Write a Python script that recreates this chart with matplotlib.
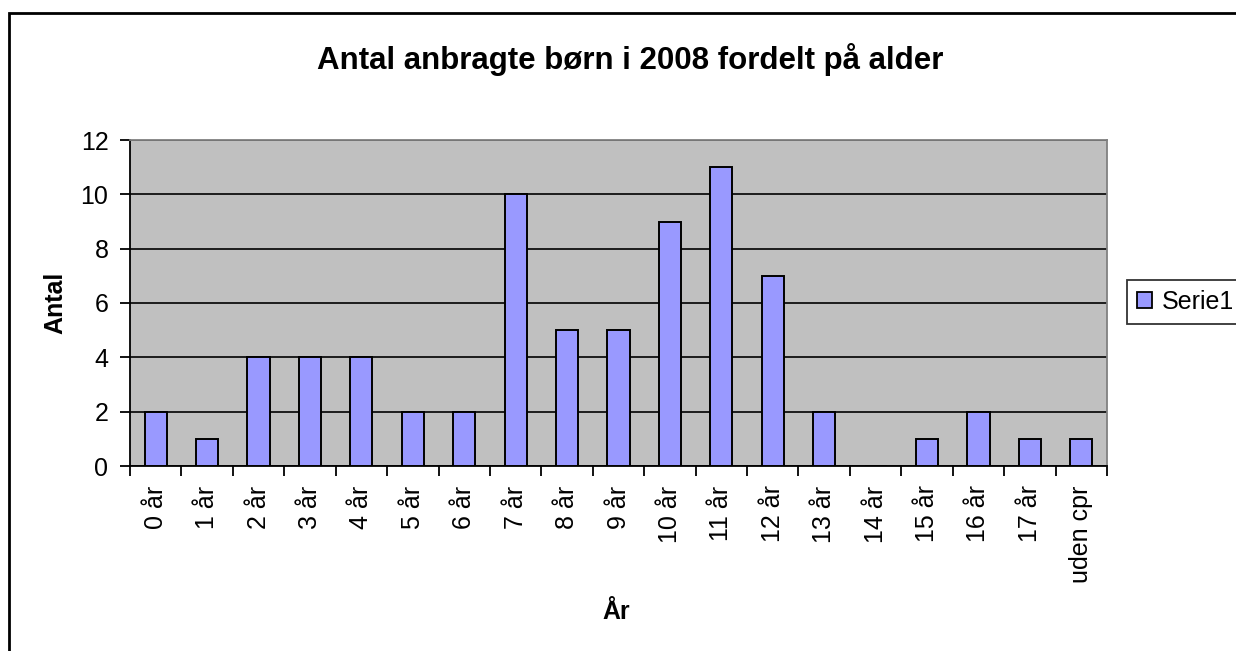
import numpy as np
import matplotlib
matplotlib.use('Agg')
import matplotlib.pyplot as plt
from matplotlib.patches import Rectangle, Patch

plt.rcParams['font.family'] = ['Liberation Sans', 'DejaVu Sans']

# Data
categories = ['0 år', '1 år', '2 år', '3 år', '4 år', '5 år', '6 år', '7 år', '8 år',
              '9 år', '10 år', '11 år', '12 år', '13 år', '14 år', '15 år', '16 år',
              '17 år', 'uden cpr']
counts = [2, 1, 4, 4, 4, 2, 2, 10, 5, 5, 9, 11, 7, 2, 0, 1, 2, 1, 1]
y_ticks = [0, 2, 4, 6, 8, 10, 12]
series_name = 'Serie1'

W, H = 1236, 651
BAR_COLOR = '#9999FF'
FS = 18

fig = plt.figure(figsize=(W / 100, H / 100), dpi=100)
fig.patch.set_facecolor('white')

# outer chart border (right and bottom run off the image)
fig.patches.append(Rectangle((9 / W, -0.1), 2.0, (H - 13) / H + 0.1,
                             transform=fig.transFigure, fill=False,
                             edgecolor='black', linewidth=2.0))

# plot area in pixel units
left, right, top, bottom = 130, 1107, 140, 466
ax = fig.add_axes([left / W, (H - bottom) / H, (right - left) / W, (bottom - top) / H])
ax.set_facecolor('#C0C0C0')

x = np.arange(len(categories))
ax.bar(x, counts, width=0.43, color=BAR_COLOR, edgecolor='black', linewidth=1.4,
       zorder=3, label=series_name)

ax.set_xlim(-0.5, len(categories) - 0.5)
ax.set_ylim(0, 12)
ax.set_yticks(y_ticks)
ax.yaxis.grid(True, color='black', linewidth=1.2, zorder=1)
ax.set_axisbelow(True)

# x ticks at category boundaries, labels at centres
ax.set_xticks(np.arange(-0.5, len(categories), 1.0))
ax.set_xticklabels([])
ax.set_xticks(x, minor=True)
ax.set_xticklabels(categories, minor=True, rotation=90, fontsize=FS)
ax.tick_params(axis='x', which='major', direction='out', length=7, width=1.3)
ax.tick_params(axis='x', which='minor', length=0, pad=14)
ax.tick_params(axis='y', direction='out', length=7, width=1.3, labelsize=FS, pad=8.5)

for side in ['top', 'right']:
    ax.spines[side].set_color('#808080')
    ax.spines[side].set_linewidth(1.3)
ax.spines['left'].set_linewidth(1.3)
ax.spines['bottom'].set_linewidth(1.3)

fig.text(630 / W, 1 - 60 / H, 'Antal anbragte børn i 2008 fordelt på alder',
         ha='center', va='center', fontsize=22.5, fontweight='bold')
fig.text(55 / W, 1 - 303 / H, 'Antal', rotation=90, ha='center', va='center',
         fontsize=FS, fontweight='bold')
fig.text(616 / W, 1 - 612 / H, 'År', ha='center', va='center',
         fontsize=FS, fontweight='bold')

handle = Patch(facecolor=BAR_COLOR, edgecolor='black', linewidth=1.3)
leg = fig.legend([handle], [series_name], loc='center left',
                 bbox_to_anchor=(1127 / W, 1 - 302 / H), fontsize=FS,
                 frameon=True, fancybox=False, edgecolor='black',
                 handlelength=0.6, handleheight=0.6, handletextpad=0.4,
                 borderpad=0.4, borderaxespad=0)
leg.get_frame().set_linewidth(1.3)

fig.savefig('out.png', dpi=100)
